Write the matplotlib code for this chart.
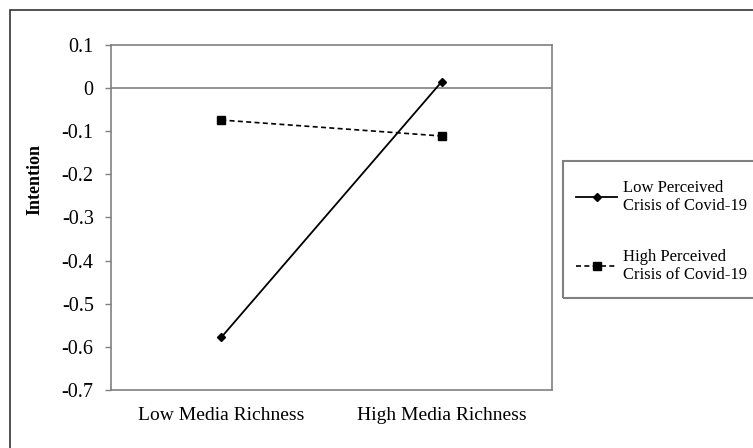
import matplotlib.pyplot as plt
from matplotlib.patches import Rectangle

plt.rcParams['font.family'] = ['Liberation Serif', 'DejaVu Serif']
plt.rcParams['axes.unicode_minus'] = False

# interaction means
conditions = ["Low Media Richness", "High Media Richness"]
low_crisis = [-0.578, 0.015]
high_crisis = [-0.074, -0.111]
series_labels = ["Low Perceived\nCrisis of Covid-19", "High Perceived\nCrisis of Covid-19"]
y_ticks = [0.1, 0, -0.1, -0.2, -0.3, -0.4, -0.5, -0.6, -0.7]

W, H = 753, 448
fig = plt.figure(figsize=(W / 100, H / 100), dpi=100)
ax = fig.add_axes([111 / W, 1 - 390 / H, 441 / W, 345 / H])

x = list(range(len(conditions)))
l1, = ax.plot(x, low_crisis, color="black", lw=1.3, marker="D", markersize=4.5)
l2, = ax.plot(x, high_crisis, color="black", lw=1.2, ls=(0, (3, 2)),
              marker="s", markersize=6)

ax.axhline(0, color="#808080", lw=1.2, zorder=1)
ax.set_xlim(-0.5, 1.5)
ax.set_ylim(-0.7, 0.1)
ax.set_xticks(x)
ax.set_xticklabels(conditions, fontsize=14)
ax.set_yticks(y_ticks)
ax.set_yticklabels(["0" if v == 0 else f"{v:.1f}" for v in y_ticks], fontsize=14.5)
ax.tick_params(axis="x", length=0, pad=12)
ax.tick_params(axis="y", length=4.5, width=1, color="#808080", pad=8)
for s in ax.spines.values():
    s.set_color("#808080")
    s.set_linewidth(1.2)

ax.set_ylabel("Intention", fontsize=13, fontweight="bold")
ax.yaxis.set_label_coords((43 - 111) / 441, 0.61)

# outer frame and legend box
fig.add_artist(Rectangle((10 / W, -0.1), 1.2, 1.1 - 10 / H, transform=fig.transFigure,
                         fill=False, edgecolor="#333333", lw=1.2))
fig.add_artist(Rectangle((563 / W, 1 - 297.5 / H), 0.5, 137 / H, transform=fig.transFigure,
                         fill=False, edgecolor="#808080", lw=1.5))

fig.legend([l1, l2], series_labels, loc="upper left",
           bbox_to_anchor=(569 / W, 1 - 173 / H), frameon=False,
           fontsize=12, handlelength=2.5, handletextpad=0.35,
           labelspacing=2.1, borderaxespad=0)

fig.savefig("out.png", dpi=100)
